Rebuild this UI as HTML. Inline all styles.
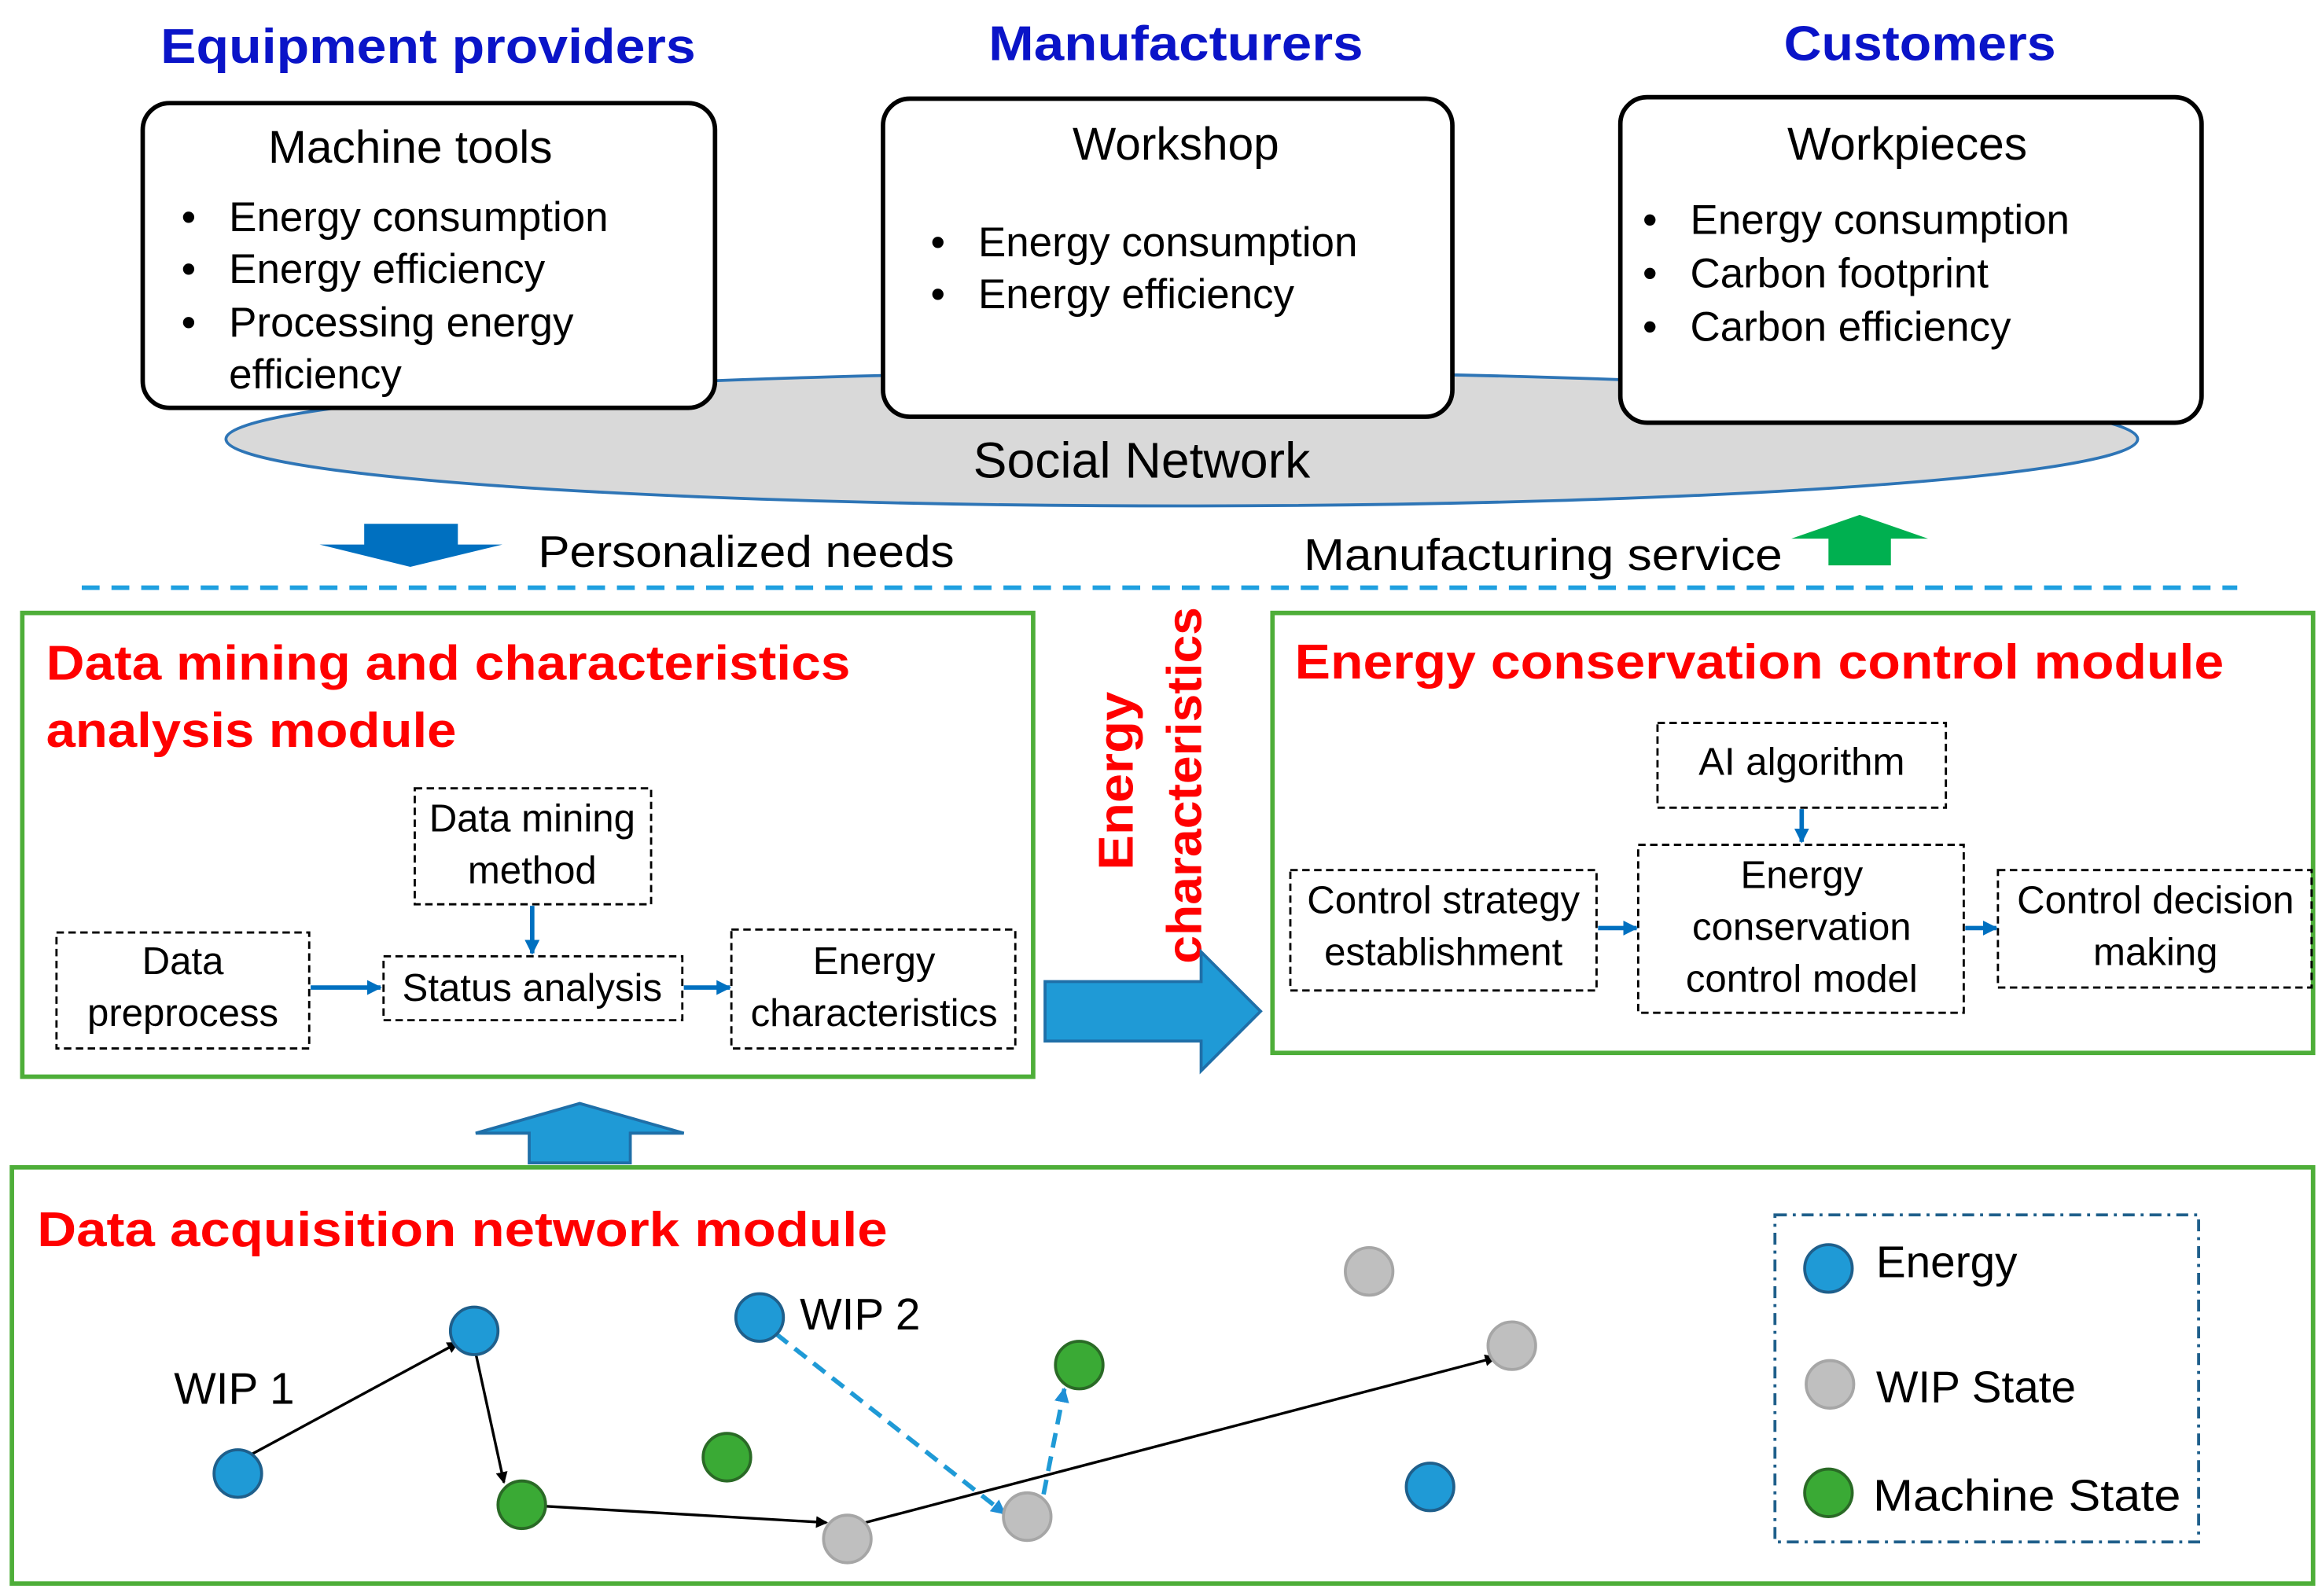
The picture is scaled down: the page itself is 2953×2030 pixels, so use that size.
<!DOCTYPE html>
<html><head><meta charset="utf-8"><style>html,body{margin:0;padding:0;background:#fff}svg{display:block}</style></head><body>
<svg width="2953" height="2030" viewBox="0 0 1562 1073" xmlns="http://www.w3.org/2000/svg" font-family="Liberation Sans, sans-serif">
<defs>
<marker id="ab" markerWidth="8" markerHeight="8" refX="7" refY="4" orient="auto" markerUnits="userSpaceOnUse"><path d="M0,0 L8,4 L0,8z" fill="#000"/></marker>
<marker id="abl" markerWidth="10" markerHeight="10" refX="9" refY="5" orient="auto" markerUnits="userSpaceOnUse"><path d="M0,0 L10,5 L0,10z" fill="#1f8fd6"/></marker>
<marker id="abl2" markerWidth="10" markerHeight="10" refX="9" refY="5" orient="auto" markerUnits="userSpaceOnUse"><path d="M0,0 L10,5 L0,10z" fill="#0070c0"/></marker>
</defs>
<g font-weight="bold" fill="#0a14c8" font-size="33">
<text x="108" y="42" textLength="360" lengthAdjust="spacingAndGlyphs">Equipment providers</text>
<text x="665" y="40" textLength="252" lengthAdjust="spacingAndGlyphs">Manufacturers</text>
<text x="1200" y="40" textLength="183" lengthAdjust="spacingAndGlyphs">Customers</text>
</g>
<ellipse cx="795" cy="295" rx="643" ry="45" fill="#d9d9d9" stroke="#2e75b6" stroke-width="2"/>
<text x="768" y="321" font-size="34" text-anchor="middle">Social Network</text>
<rect x="96" y="69" width="385" height="205" rx="18" fill="#fff" stroke="#000" stroke-width="3"/>
<rect x="594" y="66" width="383" height="214" rx="18" fill="#fff" stroke="#000" stroke-width="3"/>
<rect x="1090" y="65" width="391" height="219" rx="18" fill="#fff" stroke="#000" stroke-width="3"/>
<g font-size="28">
<text x="276" y="109" text-anchor="middle" font-size="31">Machine tools</text>
<text x="122" y="155">•</text><text x="154" y="155">Energy consumption</text>
<text x="122" y="190">•</text><text x="154" y="190">Energy efficiency</text>
<text x="122" y="226">•</text><text x="154" y="226">Processing energy</text>
<text x="154" y="261">efficiency</text>
<text x="791" y="107" text-anchor="middle" font-size="31">Workshop</text>
<text x="626" y="172">•</text><text x="658" y="172">Energy consumption</text>
<text x="626" y="207">•</text><text x="658" y="207">Energy efficiency</text>
<text x="1283" y="107" text-anchor="middle" font-size="31">Workpieces</text>
<text x="1105" y="157">•</text><text x="1137" y="157">Energy consumption</text>
<text x="1105" y="193">•</text><text x="1137" y="193">Carbon footprint</text>
<text x="1105" y="229">•</text><text x="1137" y="229">Carbon efficiency</text>
</g>
<path d="M245,352 L308,352 L308,366 L338,366 L276,381 L215,366 L245,366z" fill="#0070c0"/>
<path d="M1230,380 L1272,380 L1272,362 L1297,362 L1251,346 L1205,362 L1230,362z" fill="#00b050"/>
<text x="362" y="381" font-size="30" textLength="280" lengthAdjust="spacingAndGlyphs">Personalized needs</text>
<text x="877" y="383" font-size="30" textLength="322" lengthAdjust="spacingAndGlyphs">Manufacturing service</text>
<line x1="55" y1="395" x2="1505" y2="395" stroke="#1fa0e0" stroke-width="3" stroke-dasharray="12,8"/>
<g fill="none" stroke="#4eae39" stroke-width="3">
<rect x="15" y="412" width="680" height="312"/>
<rect x="856" y="412" width="700" height="296"/>
<rect x="8" y="785" width="1548" height="280"/>
</g>
<g fill="#f00" font-weight="bold" font-size="33" lengthAdjust="spacingAndGlyphs">
<text x="31" y="457" textLength="541" lengthAdjust="spacingAndGlyphs">Data mining and characteristics</text>
<text x="31" y="502" textLength="276" lengthAdjust="spacingAndGlyphs">analysis module</text>
<text x="871" y="456" textLength="625" lengthAdjust="spacingAndGlyphs">Energy conservation control module</text>
<text x="25" y="838" textLength="572" lengthAdjust="spacingAndGlyphs">Data acquisition network module</text>
<text transform="translate(762,585) rotate(-90)" textLength="120" lengthAdjust="spacingAndGlyphs">Energy</text>
<text transform="translate(808,648) rotate(-90)" textLength="240" lengthAdjust="spacingAndGlyphs">characteristics</text>
</g>
<path d="M703,660 L808,660 L808,640 L848,680 L808,720 L808,700 L703,700z" fill="#1f9ad6" stroke="#1f6fa8" stroke-width="2"/>
<path d="M356,782 L424,782 L424,762 L460,762 L390,742 L320,762 L356,762z" fill="#1f9ad6" stroke="#1f6fa8" stroke-width="2"/>
<g fill="none" stroke="#000" stroke-width="1.5" stroke-dasharray="5,3">
<rect x="279" y="530" width="159" height="78"/>
<rect x="38" y="627" width="170" height="78"/>
<rect x="258" y="643" width="201" height="43"/>
<rect x="492" y="625" width="191" height="80"/>
<rect x="1115" y="486" width="194" height="57"/>
<rect x="868" y="585" width="206" height="81"/>
<rect x="1102" y="568" width="219" height="113"/>
<rect x="1344" y="585" width="211" height="79"/>
<rect x="1194" y="817" width="285" height="220" stroke="#1f5f8b" stroke-width="2" stroke-dasharray="8,4,2,4"/>
</g>
<g font-size="26" text-anchor="middle">
<text x="358" y="559">Data mining</text><text x="358" y="594">method</text>
<text x="123" y="655">Data</text><text x="123" y="690">preprocess</text>
<text x="358" y="673">Status analysis</text>
<text x="588" y="655">Energy</text><text x="588" y="690">characteristics</text>
<text x="1212" y="521">AI algorithm</text>
<text x="971" y="614">Control strategy</text><text x="971" y="649">establishment</text>
<text x="1212" y="597">Energy</text><text x="1212" y="632">conservation</text><text x="1212" y="667">control model</text>
<text x="1450" y="614">Control decision</text><text x="1450" y="649">making</text>
</g>
<g stroke="#0070c0" stroke-width="3" marker-end="url(#abl2)">
<line x1="358" y1="609" x2="358" y2="641"/>
<line x1="209" y1="664" x2="256" y2="664"/>
<line x1="460" y1="664" x2="491" y2="664"/>
<line x1="1212" y1="544" x2="1212" y2="566"/>
<line x1="1075" y1="624" x2="1101" y2="624"/>
<line x1="1322" y1="624" x2="1343" y2="624"/>
</g>
<g stroke="#000" stroke-width="1.8" marker-end="url(#ab)">
<line x1="160" y1="983" x2="308" y2="903"/>
<line x1="320" y1="910" x2="339" y2="997"/>
<line x1="367" y1="1013" x2="556" y2="1024"/>
<line x1="582" y1="1024" x2="1006" y2="913"/>
</g>
<g stroke="#1f9ad6" stroke-width="3" stroke-dasharray="10,6" marker-end="url(#abl)">
<line x1="522" y1="897" x2="676" y2="1018"/>
<line x1="702" y1="1005" x2="716" y2="934"/>
</g>
<g stroke-width="2">
<g fill="#1f9ad6" stroke="#1f5f8b">
<circle cx="160" cy="991" r="16"/><circle cx="319" cy="895" r="16"/><circle cx="511" cy="886" r="16"/><circle cx="962" cy="1000" r="16"/><circle cx="1230" cy="853" r="16"/>
</g>
<g fill="#3aaa35" stroke="#2a6a26">
<circle cx="351" cy="1012" r="16"/><circle cx="489" cy="980" r="16"/><circle cx="726" cy="918" r="16"/><circle cx="1230" cy="1004" r="16"/>
</g>
<g fill="#bfbfbf" stroke="#a6a6a6">
<circle cx="570" cy="1035" r="16"/><circle cx="691" cy="1020" r="16"/><circle cx="921" cy="855" r="16"/><circle cx="1017" cy="905" r="16"/><circle cx="1231" cy="931" r="16"/>
</g>
</g>
<g font-size="30">
<text x="117" y="944">WIP 1</text>
<text x="538" y="894">WIP 2</text>
<text x="1262" y="859">Energy</text>
<text x="1262" y="943">WIP State</text>
<text x="1260" y="1016" textLength="207" lengthAdjust="spacingAndGlyphs">Machine State</text>
</g>
</svg>
</body></html>
